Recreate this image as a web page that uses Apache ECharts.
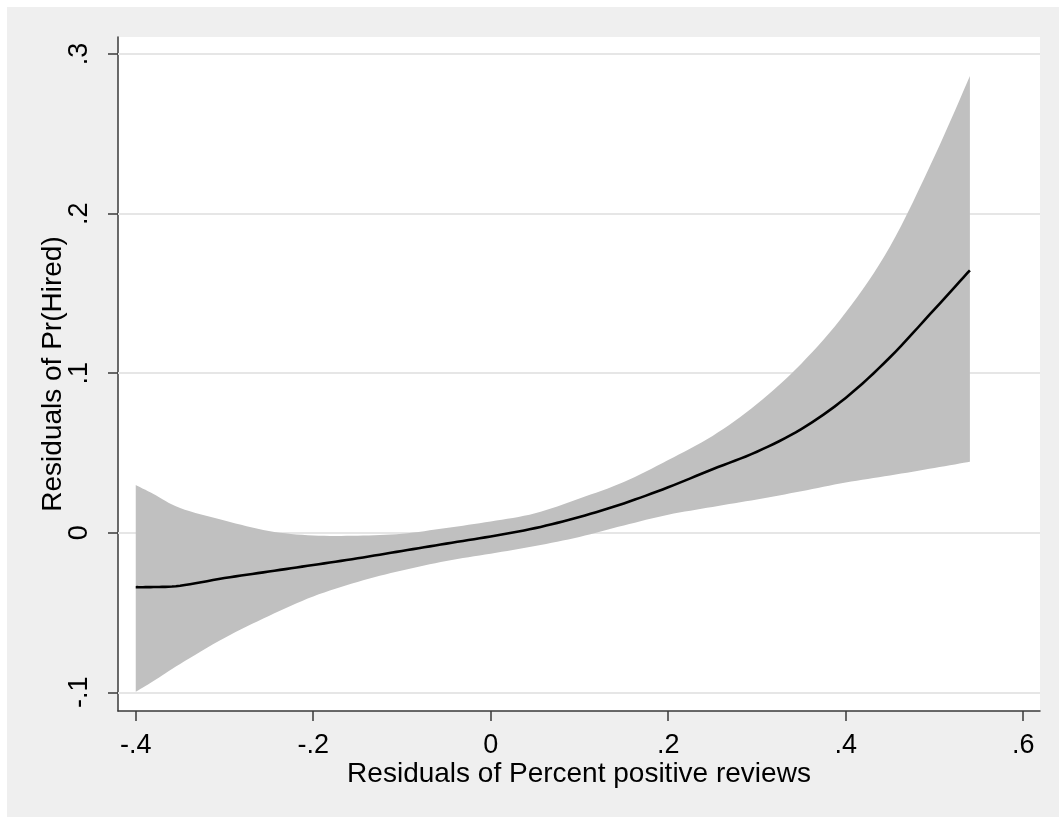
<!DOCTYPE html>
<html>
<head>
<meta charset="utf-8">
<script src="https://cdn.jsdelivr.net/npm/echarts@6.0.0/dist/echarts.min.js"></script>
<style>
  html, body { margin: 0; padding: 0; background: #ffffff; overflow: hidden; }
  #chart { position: absolute; left: 0; top: 0; width: 1059px; height: 817px; }
</style>
</head>
<body>
<div id="chart"></div>
<script>
// ---- data ----
const xValues = [-0.40, -0.38, -0.35, -0.30, -0.25, -0.20, -0.15, -0.10, -0.05, 0.00, 0.05, 0.10, 0.15, 0.20, 0.25, 0.30, 0.35, 0.40, 0.45, 0.50, 0.54];
const fitValues = [-0.0341, -0.0340, -0.0332, -0.0284, -0.0243, -0.0202, -0.0160, -0.0114, -0.0068, -0.0023, 0.0029, 0.0099, 0.0184, 0.0285, 0.0398, 0.0508, 0.0650, 0.0845, 0.1100, 0.1400, 0.1645];
const upperValues = [0.0299, 0.0243, 0.0155, 0.0077, 0.0011, -0.0017, -0.0018, -0.0006, 0.0030, 0.0071, 0.0122, 0.0215, 0.0318, 0.0456, 0.0607, 0.0807, 0.1060, 0.1380, 0.1794, 0.2358, 0.2862];
const lowerValues = [-0.0997, -0.0929, -0.0822, -0.0659, -0.0521, -0.0399, -0.0308, -0.0236, -0.0177, -0.0131, -0.0083, -0.0026, 0.0046, 0.0113, 0.0162, 0.0209, 0.0260, 0.0315, 0.0359, 0.0406, 0.0445];
const xTicks = [-0.4, -0.2, 0, 0.2, 0.4, 0.6];
const yTicks = [-0.1, 0, 0.1, 0.2, 0.3];
const xTitle = 'Residuals of Percent positive reviews';
const yTitle = 'Residuals of Pr(Hired)';

function stataLabel(v) {
  if (Math.abs(v) < 1e-9) return '0';
  const s = String(Math.round(Math.abs(v) * 10) / 10).replace(/^0/, '');
  return (v < 0 ? '-' : '') + s;
}

// Catmull-Rom subdivision of a pixel-space polyline (smooth rendering of the edges)
function smoothPts(pts, steps) {
  const out = [];
  for (let i = 0; i < pts.length - 1; i++) {
    const p0 = pts[Math.max(i - 1, 0)], p1 = pts[i], p2 = pts[i + 1], p3 = pts[Math.min(i + 2, pts.length - 1)];
    for (let s = 0; s < steps; s++) {
      const t = s / steps, t2 = t * t, t3 = t2 * t;
      const f = (a, b, c, d) => 0.5 * ((2 * b) + (-a + c) * t + (2 * a - 5 * b + 4 * c - d) * t2 + (-a + 3 * b - 3 * c + d) * t3);
      out.push([f(p0[0], p1[0], p2[0], p3[0]), f(p0[1], p1[1], p2[1], p3[1])]);
    }
  }
  out.push(pts[pts.length - 1]);
  return out;
}

const font = '"Liberation Sans", Arial, Helvetica, sans-serif';
const axisColor = '#3a3a3a';

const bandData = xValues.map((x, i) => [x, lowerValues[i], upperValues[i]]);
const fitData = xValues.map((x, i) => [x, fitValues[i]]);

const chart = echarts.init(document.getElementById('chart'), null, { renderer: 'canvas' });
chart.setOption({
  backgroundColor: '#efefef',
  animation: false,
  graphic: [
    { type: 'rect', left: 0, top: 0, shape: { width: 1059, height: 7 }, style: { fill: '#ffffff' }, silent: true, z: -100 },
    { type: 'rect', left: 0, top: 0, shape: { width: 7, height: 817 }, style: { fill: '#ffffff' }, silent: true, z: -100 }
  ],
  grid: {
    left: 118, top: 37, right: 19, bottom: 106,
    show: true, backgroundColor: '#ffffff', borderWidth: 0
  },
  xAxis: {
    type: 'value',
    min: -0.42, max: 0.619,
    name: xTitle,
    nameLocation: 'middle',
    nameGap: 49,
    nameMoveOverlap: false,
    nameTextStyle: { color: '#000', fontSize: 28, fontFamily: font },
    axisLine: { show: true, onZero: false, lineStyle: { color: axisColor, width: 1.5 } },
    axisTick: { show: true, length: 10, customValues: xTicks, lineStyle: { color: axisColor, width: 1.5 } },
    axisLabel: {
      show: true, customValues: xTicks, margin: 21,
      color: '#000', fontSize: 27, fontFamily: font,
      formatter: stataLabel
    },
    splitLine: { show: false }
  },
  yAxis: {
    type: 'value',
    min: -0.1117, max: 0.3107,
    name: yTitle,
    nameLocation: 'middle',
    nameGap: 51,
    nameMoveOverlap: false,
    nameRotate: 90,
    nameTextStyle: { color: '#000', fontSize: 28, fontFamily: font },
    axisLine: { show: true, onZero: false, lineStyle: { color: axisColor, width: 1.5 } },
    axisTick: { show: true, length: 10, customValues: yTicks, lineStyle: { color: axisColor, width: 1.5 } },
    axisLabel: {
      show: true, customValues: yTicks, margin: 25, rotate: 90,
      color: '#000', fontSize: 27, fontFamily: font,
      formatter: stataLabel
    },
    splitLine: { show: false }
  },
  series: [
    {
      name: 'grid',
      type: 'line',
      data: [],
      silent: true,
      z: 1,
      markLine: {
        silent: true,
        symbol: ['none', 'none'],
        label: { show: false },
        z: 1,
        lineStyle: { color: '#e6e6e6', width: 2, type: 'solid' },
        data: yTicks.map(v => ({ yAxis: v }))
      }
    },
    {
      name: 'band',
      type: 'custom',
      data: bandData,
      encode: { x: 0, y: [1, 2] },
      silent: true,
      z: 2,
      renderItem: function (params, api) {
        if (params.dataIndex !== 0) return null;
        const up = bandData.map(d => api.coord([d[0], d[2]]));
        const lo = bandData.map(d => api.coord([d[0], d[1]]));
        const pts = smoothPts(up, 8).concat(smoothPts(lo, 8).reverse());
        return {
          type: 'polygon',
          shape: { points: pts },
          style: { fill: '#c0c0c0', stroke: null }
        };
      }
    },
    {
      name: 'fit',
      type: 'custom',
      data: fitData,
      encode: { x: 0, y: 1 },
      silent: true,
      z: 4,
      renderItem: function (params, api) {
        if (params.dataIndex !== 0) return null;
        const pts = fitData.map(d => api.coord(d));
        return {
          type: 'polyline',
          shape: { points: smoothPts(pts, 8) },
          style: { stroke: '#000000', lineWidth: 2.6, fill: null, lineJoin: 'round' }
        };
      }
    }
  ]
});
</script>
</body>
</html>
